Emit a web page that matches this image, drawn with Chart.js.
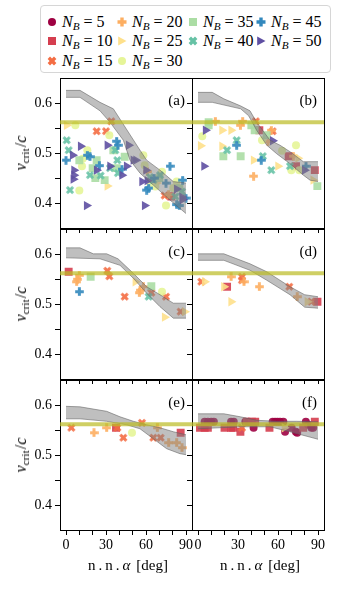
<!DOCTYPE html>
<html><head><meta charset="utf-8">
<script src="https://cdn.jsdelivr.net/npm/chart.js@4.4.1/dist/chart.umd.min.js"></script>
<style>
html,body{margin:0;padding:0;background:#fff;}
body{width:341px;height:600px;position:relative;overflow:hidden;font-family:'Liberation Serif',serif;color:#000;}
canvas.p{position:absolute;}
.ovl{position:absolute;font-family:'Liberation Serif',serif;color:#000;white-space:nowrap;line-height:1;}
.ytitle{font-size:16px;transform:translate(-50%,-50%) rotate(-90deg);}
.xtitle{font-size:15px;transform:translate(-50%,-50%);}
.plabel{font-size:15px;transform:translate(-100%,-50%);}
#legend{position:absolute;left:40px;top:5px;width:289px;height:66px;border:1px solid #d6d6d6;border-radius:4px;background:rgba(255,255,255,0.85);}
.le{position:absolute;font-family:'Liberation Serif',serif;font-size:16px;line-height:1;white-space:nowrap;transform:translateY(-50%);}
.le svg{position:absolute;left:-15px;top:50%;margin-top:-5px;}
sub{font-size:70%;vertical-align:-0.25em;line-height:0;}
</style></head><body>
<div id="legend"></div>
<script>
// ---------------- data ----------------
const NB = [5,10,15,20,25,30,35,40,45,50];
const COLORS = ['#9e0142','#d53e4f','#f46d43','#fdae61','#fee08b','#e6f598','#abdda4','#66c2a5','#3288bd','#5e4fa2'];
const MARKERS = ['circle','square','x','plus','tri','circle','square','x','plus','tri'];
const X_TICKS = [0,10,20,30,40,50,60,70,80,90];
const X_LABELS = [0,30,60,90];
const Y_TICKS = [0.40,0.45,0.50,0.55,0.60];
const Y_LABELS = [0.4,0.5,0.6];
const H_LINE = 0.562;
const PANEL_NAMES = ['(a)','(b)','(c)','(d)','(e)','(f)'];

// shaded bands [deg, v/c]
const bandA_upper = [[0,0.626],[10.5,0.626],[25.5,0.602],[35.5,0.589],[55.5,0.506],[60.5,0.486],[70.5,0.466],[80.5,0.443],[90,0.440]];
const bandA_lower = [[0,0.612],[10.5,0.612],[25.5,0.585],[33,0.562],[43,0.526],[48,0.486],[55.5,0.460],[65.5,0.436],[78,0.406],[90,0.379]];
const bandB_upper = [[0,0.622],[10.7,0.622],[19.4,0.609],[31.8,0.595],[39,0.585],[44,0.562],[54,0.526],[61.5,0.516],[69,0.503],[79,0.483],[90,0.483]];
const bandB_lower = [[0,0.602],[10.7,0.602],[32,0.589],[38,0.575],[44,0.546],[51.6,0.516],[59,0.499],[69,0.479],[79,0.456],[84,0.446],[90,0.443]];
const bandC_upper = [[0,0.613],[10.5,0.613],[20.5,0.601],[30.5,0.601],[39,0.591],[50.5,0.562],[60.5,0.535],[70.5,0.519],[80.5,0.502],[90,0.502]];
const bandC_lower = [[0,0.593],[25.5,0.591],[40.5,0.578],[50.5,0.552],[60.5,0.522],[70.5,0.495],[80.5,0.472],[90,0.472]];
const bandD_upper = [[0,0.601],[19.4,0.601],[39,0.581],[51.6,0.565],[69,0.535],[80,0.519],[90,0.515]];
const bandD_lower = [[0,0.588],[19.4,0.588],[39,0.568],[51.6,0.548],[69,0.519],[80,0.494],[90,0.492]];
const bandE_upper = [[0,0.598],[10.5,0.597],[30.5,0.588],[40.5,0.577],[50.5,0.568],[60.5,0.561],[70.5,0.555],[80.5,0.547],[90,0.541]];
const bandE_lower = [[0,0.573],[10.5,0.573],[30.5,0.568],[45.5,0.561],[55.5,0.553],[65.5,0.533],[75.5,0.513],[85.5,0.503],[90,0.501]];
const bandF_upper = [[0,0.583],[19.4,0.583],[31.8,0.577],[44,0.570],[59,0.568],[74,0.568],[90,0.567]];
const bandF_lower = [[0,0.553],[31.8,0.557],[54,0.557],[69,0.547],[90,0.532]];

// panel (a)
const A_10 = [[79,0.413]];
const A_15 = [[34,0.564],[23,0.544],[30,0.544],[74,0.415],[77.5,0.415]];
const A_20 = [[61,0.463],[77,0.417]];
const A_25 = [[0.5,0.556],[31,0.434],[68,0.44],[88,0.41]];
const A_30 = [[7,0.556],[32.5,0.536],[12.5,0.489],[12,0.474],[16,0.506],[10,0.425],[58,0.496],[59,0.476],[67,0.433],[72,0.463],[75,0.395],[83,0.443],[80.5,0.43],[63,0.44]];
const A_35 = [[10,0.486],[23,0.486],[22,0.450],[29,0.446],[35.5,0.506],[44,0.493],[38,0.47],[70,0.45],[85,0.43],[20,0.47]];
const A_40 = [[0.5,0.526],[2,0.506],[3,0.426],[18,0.456],[38.5,0.486],[39,0.46],[37,0.506],[65.5,0.446],[70.5,0.456],[87,0.423],[82,0.413],[26,0.455],[33,0.47],[63,0.452]];
const A_45 = [[0,0.486],[16,0.496],[18,0.493],[38,0.524],[39,0.516],[78,0.474],[60.5,0.426],[62,0.43],[83,0.397],[87.5,0.446],[25,0.475],[42,0.468],[66,0.45],[75,0.44],[85,0.395],[90,0.41]];
const A_50 = [[11,0.514],[5,0.496],[6,0.466],[6,0.456],[5.5,0.448],[15.5,0.395],[23,0.466],[31,0.516],[33,0.474],[42,0.456],[45.5,0.474],[47,0.516],[50.5,0.486],[52.5,0.486],[59,0.395],[60,0.466],[57,0.443],[61,0.445],[83,0.428],[87,0.412],[87.5,0.407]];
// panel (b)
const B_10 = [[46,0.546],[68,0.494],[73.5,0.474],[87.6,0.466]];
const B_15 = [[43.4,0.564],[56,0.544]];
const B_20 = [[13,0.564],[31.8,0.556],[33.5,0.564],[41.7,0.454],[55,0.546],[52.5,0.523],[71.5,0.494]];
const B_25 = [[2,0.515],[18,0.546],[24.8,0.546],[18,0.514],[41.7,0.486],[60,0.474],[86.4,0.446],[75,0.49]];
const B_30 = [[3.2,0.534],[48,0.526],[63,0.505],[73.5,0.516],[70,0.466],[76,0.466]];
const B_35 = [[8,0.562],[8,0.556],[19,0.494],[32,0.494],[40,0.556],[42.5,0.546],[51.5,0.536],[89.5,0.434]];
const B_40 = [[29,0.526],[21.8,0.506],[48.6,0.494],[55,0.466],[69,0.474]];
const B_45 = [[29,0.516],[47.4,0.486],[81,0.474]];
const B_50 = [[5.7,0.546],[4.5,0.474],[56,0.525],[80,0.466]];
// panel (c)
const C_10 = [[2,0.565]];
const C_15 = [[31,0.567],[32.5,0.556],[44,0.515],[64,0.523],[75,0.515],[86,0.485]];
const C_20 = [[8.5,0.55],[10,0.558],[8,0.545],[55.5,0.528],[58,0.535],[55,0.523]];
const C_25 = [[52,0.545],[74,0.474],[89,0.485]];
const C_30 = [[72,0.525]];
const C_35 = [[18.5,0.555],[64,0.536]];
const C_40 = [[62,0.515]];
const C_45 = [[10,0.525]];
// panel (d)
const D_10 = [[21.8,0.535],[89.6,0.505]];
const D_15 = [[2.5,0.545],[33,0.555],[33,0.548],[68.5,0.535],[85,0.505]];
const D_20 = [[24.8,0.555],[34.5,0.545],[46,0.535],[74.4,0.515]];
const D_25 = [[5,0.545],[19.4,0.535],[24.8,0.505],[82,0.505]];
// panel (e)
const E_10 = [[37.5,0.555],[86,0.545]];
const E_15 = [[4,0.555],[38.5,0.555],[43,0.535],[57,0.565],[65.5,0.535],[71,0.535]];
const E_20 = [[21,0.545],[30.5,0.555],[68.5,0.555],[77,0.525],[83,0.525],[87,0.515]];
const E_30 = [[49.5,0.545]];
// panel (f)
const F_5 = [[5,0.567],[7.4,0.567],[9.9,0.567],[11.9,0.567],[24.8,0.567],[26.8,0.567],[35.5,0.567],[38,0.567],[41.7,0.555],[56,0.567],[57.8,0.567],[59.6,0.567],[61.5,0.567],[64,0.567],[65.3,0.547],[70.2,0.555],[73.4,0.547],[74.4,0.545],[80.9,0.567],[82.6,0.561],[85.1,0.555],[86.4,0.555]];
const F_10 = [[1.5,0.555],[5,0.555],[7.4,0.555],[19.9,0.555],[24.8,0.555],[26.3,0.555],[31.8,0.547],[36.7,0.567],[40.4,0.567],[42.9,0.567],[53.6,0.555],[78.9,0.555],[87.6,0.567]];
const F_15 = [[33,0.555]];
const F_25 = [[64.8,0.555]];

// ---------------- layout ----------------
const COLS = [60,192], ROWS = [77,228,379], PW = 132, PH = 151;
const ML = 45, MT = 10, MR = 10, MB = 40;
const XMIN = -4.5, XMAX = 94.5, YMIN = 0.35, YMAX = 0.65;

const PANELS = [
  {bands:[bandA_upper,bandA_lower], series:{10:A_10,15:A_15,20:A_20,25:A_25,30:A_30,35:A_35,40:A_40,45:A_45,50:A_50}},
  {bands:[bandB_upper,bandB_lower], series:{10:B_10,15:B_15,20:B_20,25:B_25,30:B_30,35:B_35,40:B_40,45:B_45,50:B_50}},
  {bands:[bandC_upper,bandC_lower], series:{10:C_10,15:C_15,20:C_20,25:C_25,30:C_30,35:C_35,40:C_40,45:C_45}},
  {bands:[bandD_upper,bandD_lower], series:{10:D_10,15:D_15,20:D_20,25:D_25}},
  {bands:[bandE_upper,bandE_lower], series:{10:E_10,15:E_15,20:E_20,30:E_30}},
  {bands:[bandF_upper,bandF_lower], series:{5:F_5,10:F_10,15:F_15,25:F_25}}
];

function hexA(hex, a){
  const n = parseInt(hex.slice(1),16);
  return `rgba(${(n>>16)&255},${(n>>8)&255},${n&255},${a})`;
}
const plusCache = {};
function plusImage(color){
  if (plusCache[color]) return plusCache[color];
  const c = document.createElement('canvas');
  c.width = 9; c.height = 9;
  const g = c.getContext('2d');
  g.fillStyle = hexA(color,0.9);
  g.beginPath();
  g.rect(3,0.2,3,8.6);
  g.rect(0.2,3,2.8,3);
  g.rect(6,3,2.8,3);
  g.fill();
  plusCache[color] = c;
  return c;
}
function styleFor(k){
  const m = MARKERS[k], col = COLORS[k];
  const base = {backgroundColor: hexA(col,0.9), borderWidth:0, pointBorderWidth:0, pointBackgroundColor: hexA(col,0.9)};
  if (m==='circle') return Object.assign(base,{pointStyle:'circle', pointRadius:4});
  if (m==='square') return Object.assign(base,{pointStyle:'rect', pointRadius:5.6});
  if (m==='tri') return Object.assign(base,{pointStyle:'triangle', pointRadius:5.4, pointRotation:90});
  if (m==='plus') return Object.assign(base,{pointStyle:plusImage(col), pointRadius:4.5});
  return Object.assign(base,{pointStyle:plusImage(col), pointRadius:4.5, pointRotation:45});
}
const toXY = arr => arr.map(p => ({x:p[0], y:p[1]}));
const near = (v, list) => list.some(t => Math.abs(t - v) < 1e-6);

function makePanel(idx){
  const col = idx % 2, row = Math.floor(idx/2);
  const P = PANELS[idx];
  const cv = document.createElement('canvas');
  cv.className = 'p';
  const w = PW+ML+MR, h = PH+MT+MB;
  cv.width = w; cv.height = h;
  cv.style.left = (COLS[col]-ML)+'px'; cv.style.top = (ROWS[row]-MT)+'px';
  cv.style.width = w+'px'; cv.style.height = h+'px';
  document.body.appendChild(cv);

  const datasets = [];
  datasets.push({type:'line', label:'v_ref', data: toXY([[XMIN,H_LINE],[XMAX,H_LINE]]),
    borderColor:'rgba(188,188,40,0.72)', borderWidth:4, pointRadius:0, fill:false, order:0});
  datasets.push({type:'line', label:'band_up', data: toXY(P.bands[0]), borderColor:'rgba(95,95,95,0.55)', borderWidth:1,
    pointRadius:0, fill:false, tension:0, order:1});
  datasets.push({type:'line', label:'band_lo', data: toXY(P.bands[1]), borderColor:'rgba(95,95,95,0.55)', borderWidth:1,
    pointRadius:0, fill:'-1', backgroundColor:'rgba(128,128,128,0.5)', tension:0, order:1});
  NB.forEach((nb,k) => {
    const arr = P.series[nb];
    if (!arr) return;
    datasets.push(Object.assign({type:'scatter', label:'N_B = '+nb, data: toXY(arr), order: 30-k}, styleFor(k)));
  });

  const showY = col===0, showX = row===2;
  const tickFont = {family:'Liberation Serif', size:14};
  new Chart(cv, {
    type:'scatter',
    data:{datasets},
    options:{
      responsive:false, animation:false, devicePixelRatio:1,
      layout:{padding:{left:0, top:MT, right:MR, bottom:0}},
      plugins:{legend:{display:false}, tooltip:{enabled:false}},
      scales:{
        x:{type:'linear', position:'bottom', min:XMIN, max:XMAX,
          afterBuildTicks: s => { s.ticks = X_TICKS.map(v=>({value:v})); },
          afterFit: s => { s.height = MB; },
          ticks:{autoSkip:false, maxRotation:0, padding:2, color:'#000', font:tickFont,
            callback: v => (showX && near(v,X_LABELS)) ? String(Math.round(v)) : ''},
          grid:{display:true, drawOnChartArea:false, drawTicks:true, tickLength:5, tickColor:'#000', tickWidth:1},
          border:{display:true, color:'#000', width:1}},
        y:{type:'linear', position:'left', min:YMIN, max:YMAX,
          afterBuildTicks: s => { s.ticks = Y_TICKS.map(v=>({value:v})); },
          afterFit: s => { s.width = ML; },
          ticks:{autoSkip:false, padding:3, color:'#000', font:tickFont,
            callback: v => (showY && near(v,Y_LABELS)) ? v.toFixed(1) : ''},
          grid:{display:true, drawOnChartArea:false, drawTicks:true, tickLength:5, tickColor:'#000', tickWidth:1},
          border:{display:true, color:'#000', width:1}},
        x2:{type:'linear', position:'top', min:XMIN, max:XMAX, ticks:{display:false}, grid:{display:false},
          afterFit: s => { s.height = 0; }, border:{display:true, color:'#000', width:1}},
        y2:{type:'linear', position:'right', min:YMIN, max:YMAX, ticks:{display:false}, grid:{display:false},
          afterFit: s => { s.width = 0; }, border:{display:true, color:'#000', width:1}}
      }
    }
  });

  // panel label
  const pl = document.createElement('div');
  pl.className = 'ovl plabel';
  pl.textContent = PANEL_NAMES[idx];
  pl.style.left = (COLS[col]+PW-7)+'px';
  pl.style.top = (ROWS[row]+23)+'px';
  document.body.appendChild(pl);

  if (showY){
    const yt = document.createElement('div');
    yt.className = 'ovl ytitle';
    yt.innerHTML = '<i>v</i><sub>crit</sub>&#8202;/<i>c</i>';
    yt.style.left = '21px';
    yt.style.top = (ROWS[row]+PH/2)+'px';
    document.body.appendChild(yt);
  }
  if (showX){
    const xt = document.createElement('div');
    xt.className = 'ovl xtitle';
    xt.innerHTML = 'n&#8201;.&#8201;n&#8201;.&#8201;<i>α</i>&#8201;&#8201;[deg]';
    xt.style.left = (COLS[col]+PW/2+2)+'px';
    xt.style.top = '565px';
    document.body.appendChild(xt);
  }
}
for (let i=0;i<6;i++) makePanel(i);

// legend
function markerSVG(k){
  const c = COLORS[k], m = MARKERS[k];
  let s = '';
  if (m==='circle') s = `<circle cx="5" cy="5" r="4" fill="${c}"/>`;
  else if (m==='square') s = `<rect x="1" y="1" width="8" height="8" fill="${c}"/>`;
  else if (m==='tri') s = `<polygon points="1.2,0.5 9.5,5 1.2,9.5" fill="${c}"/>`;
  else if (m==='plus') s = `<path d="M3.3 0.5h3.4v2.8h2.8v3.4h-2.8v2.8h-3.4v-2.8h-2.8v-3.4h2.8z" fill="${c}"/>`;
  else s = `<path d="M3.3 0.5h3.4v2.8h2.8v3.4h-2.8v2.8h-3.4v-2.8h-2.8v-3.4h2.8z" fill="${c}" transform="rotate(45 5 5)"/>`;
  return `<svg width="10" height="10" viewBox="0 0 10 10">${s}</svg>`;
}
const LEG_COLS = [21,91,162,230];
const LEG_ROWS = [15.5,35,54.5];
const legend = document.getElementById('legend');
const LEG_POS = [[0,0],[0,1],[0,2],[1,0],[1,1],[1,2],[2,0],[2,1],[3,0],[3,1]];
NB.forEach((nb,k) => {
  const e = document.createElement('div');
  e.className = 'le';
  e.style.left = LEG_COLS[LEG_POS[k][0]]+'px';
  e.style.top = LEG_ROWS[LEG_POS[k][1]]+'px';
  e.innerHTML = markerSVG(k) + `<i>N</i><sub><i>B</i></sub> = ${nb}`;
  legend.appendChild(e);
});
</script>
</body></html>
